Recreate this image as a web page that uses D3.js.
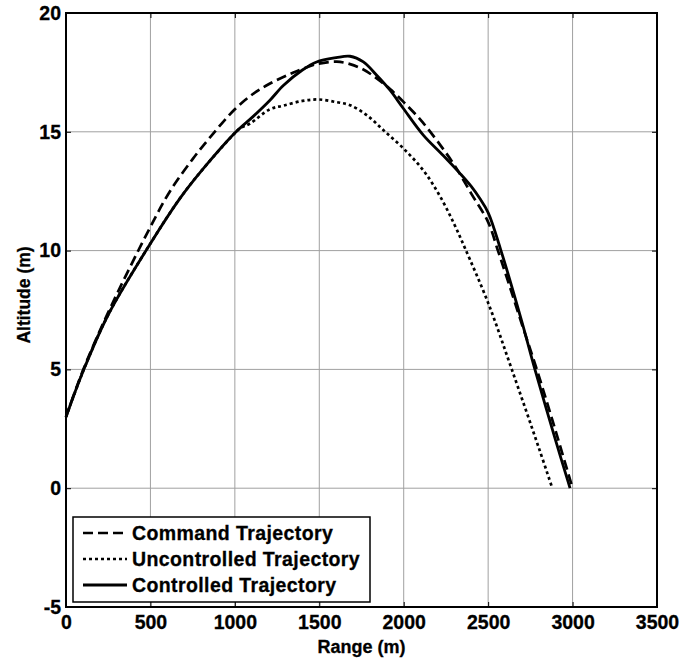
<!DOCTYPE html>
<html>
<head>
<meta charset="utf-8">
<script src="https://cdn.jsdelivr.net/npm/d3@7"></script>
<style>
  html, body { margin: 0; padding: 0; background: #fff; }
  svg { display: block; }
  svg text { font-family: "Liberation Sans", Arial, sans-serif; font-weight: 700; fill: #000; stroke: #000; stroke-width: 0.3px; }
</style>
</head>
<body>
<svg id="chart" width="682" height="664"></svg>
<script>
// Trajectory samples: range (m) and altitude (m)
const commandRange = [0, 100, 250, 500, 616, 750, 863, 1000, 1109, 1200, 1300, 1366, 1484, 1603, 1682, 1761, 1840, 1919, 2000, 2100, 2200, 2300, 2400, 2500, 2558, 2600, 2700, 2788, 2900, 3000];
const commandAlt   = [3.0, 4.95, 7.4, 11.0, 12.5, 13.85, 14.85, 15.95, 16.6, 17.0, 17.35, 17.55, 17.85, 17.95, 17.85, 17.62, 17.25, 16.8, 16.25, 15.5, 14.6, 13.6, 12.4, 11.2, 10.0, 9.1, 6.9, 5.0, 2.4, 0];

const uncontrolledRange = [0, 100, 250, 500, 675, 813, 1000, 1030, 1090, 1208, 1287, 1400, 1494, 1600, 1682, 1781, 1880, 1998, 2116, 2214, 2300, 2363, 2500, 2640, 2800, 2880];
const uncontrolledAlt   = [3.0, 4.9, 7.3, 10.3, 12.2, 13.45, 14.95, 15.15, 15.35, 15.95, 16.1, 16.3, 16.36, 16.25, 16.12, 15.7, 15.07, 14.3, 13.38, 12.3, 11.1, 10.1, 7.8, 5.0, 1.7, 0];

const controlledRange = [0, 100, 250, 500, 675, 813, 1000, 1109, 1208, 1287, 1400, 1484, 1600, 1682, 1761, 1840, 1919, 1998, 2116, 2234, 2333, 2400, 2450, 2500, 2576, 2700, 2777, 2900, 2985];
const controlledAlt   = [3.0, 4.9, 7.3, 10.3, 12.2, 13.45, 14.95, 15.65, 16.33, 16.95, 17.6, 17.94, 18.12, 18.18, 17.94, 17.38, 16.75, 15.98, 14.86, 14.0, 13.25, 12.7, 12.2, 11.6, 10.0, 7.0, 5.0, 2.0, 0];

const xTicks = [0, 500, 1000, 1500, 2000, 2500, 3000, 3500];
const yTicks = [-5, 0, 5, 10, 15, 20];

const seriesNames = ["Command Trajectory", "Uncontrolled Trajectory", "Controlled Trajectory"];

const svg = d3.select("#chart");
const plotLeft = 66, plotRight = 657, plotTop = 13, plotBottom = 607;

const x = d3.scaleLinear().domain([0, 3500]).range([plotLeft, plotRight]);
const y = d3.scaleLinear().domain([-5, 20]).range([plotBottom, plotTop]);

// grid
const grid = svg.append("g").attr("stroke", "#a0a0a0").attr("stroke-width", 1);
xTicks.slice(1, -1).forEach(t => {
  grid.append("line").attr("x1", x(t)).attr("x2", x(t)).attr("y1", plotTop).attr("y2", plotBottom);
});
yTicks.slice(1, -1).forEach(t => {
  grid.append("line").attr("x1", plotLeft).attr("x2", plotRight).attr("y1", y(t)).attr("y2", y(t));
});

// axes with inward ticks on all four sides
const fmt = d => String(d);
const xAxis = d3.axisBottom(x).tickValues(xTicks).tickFormat(fmt).tickSizeInner(-5).tickSizeOuter(0).tickPadding(8);
const yAxis = d3.axisLeft(y).tickValues(yTicks).tickFormat(fmt).tickSizeInner(-5).tickSizeOuter(0).tickPadding(5);
const xTop = d3.axisTop(x).tickValues(xTicks).tickSizeInner(-5).tickSizeOuter(0).tickFormat("");
const yRight = d3.axisRight(y).tickValues(yTicks).tickSizeInner(-5).tickSizeOuter(0).tickFormat("");

function styleAxis(g) {
  g.attr("font-family", null).attr("font-size", null);
  g.select(".domain").remove();
  g.selectAll(".tick line").attr("stroke", "#000").attr("stroke-width", 1);
  g.selectAll(".tick text").attr("fill", "#000").style("font-size", "19.5px");
}
svg.append("g").attr("transform", `translate(0,${plotBottom})`).call(xAxis).call(styleAxis);
svg.append("g").attr("transform", `translate(${plotLeft},0)`).call(yAxis).call(styleAxis);
svg.append("g").attr("transform", `translate(0,${plotTop})`).call(xTop).call(styleAxis);
svg.append("g").attr("transform", `translate(${plotRight},0)`).call(yRight).call(styleAxis);

// frame
svg.append("rect").attr("x", plotLeft).attr("y", plotTop)
  .attr("width", plotRight - plotLeft).attr("height", plotBottom - plotTop)
  .attr("fill", "none").attr("stroke", "#000").attr("stroke-width", 2);

// curves
const line = d3.line().x(d => x(d[0])).y(d => y(d[1])).curve(d3.curveCatmullRom.alpha(0.5));
const styles = [
  { dash: "10,5", width: 2.7 },
  { dash: "3,3", width: 2.7 },
  { dash: null, width: 2.8 }
];
const series = [
  d3.zip(commandRange, commandAlt),
  d3.zip(uncontrolledRange, uncontrolledAlt),
  d3.zip(controlledRange, controlledAlt)
];
series.forEach((pts, i) => {
  svg.append("path").attr("d", line(pts)).attr("fill", "none").attr("stroke", "#000")
    .attr("stroke-width", styles[i].width)
    .attr("stroke-dasharray", styles[i].dash);
});

// axis titles
svg.append("text").attr("x", (plotLeft + plotRight) / 2).attr("y", 653).attr("text-anchor", "middle")
  .style("font-size", "18px").text("Range (m)");
svg.append("text").attr("transform", `translate(30,295) rotate(-90)`).attr("text-anchor", "middle")
  .style("font-size", "17.5px").text("Altitude (m)");

// legend
const lg = svg.append("g");
lg.append("rect").attr("x", 73).attr("y", 517).attr("width", 297).attr("height", 85)
  .attr("fill", "#fff").attr("stroke", "#000").attr("stroke-width", 1.5);
const rowY = [533, 559, 585];
seriesNames.forEach((name, i) => {
  lg.append("line").attr("x1", 83).attr("x2", 127).attr("y1", rowY[i]).attr("y2", rowY[i])
    .attr("stroke", "#000").attr("stroke-width", styles[i].width).attr("stroke-dasharray", styles[i].dash);
  lg.append("text").attr("x", 132).attr("y", rowY[i]).attr("dy", "0.36em")
    .style("font-size", "19.5px").style("letter-spacing", "0.4px").text(name);
});
</script>
</body>
</html>
